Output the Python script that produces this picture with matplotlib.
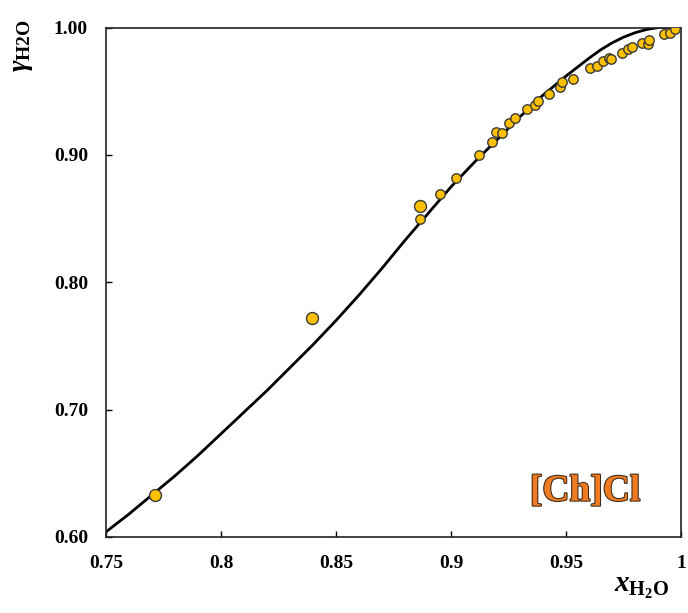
import matplotlib
matplotlib.use("Agg")
import matplotlib.pyplot as plt
import matplotlib.patheffects as pe

# experimental points (large markers)
x_big = [0.7713, 0.8396, 0.8865]
y_big = [0.633, 0.772, 0.8596]

# experimental points (small markers)
x_small = [0.8865, 0.8952, 0.9022, 0.9122, 0.9178, 0.9196, 0.9220, 0.9252, 0.9280,
           0.9330, 0.9365, 0.9378, 0.9426, 0.9474, 0.9483, 0.9530, 0.9604, 0.9635,
           0.9660, 0.9687, 0.9696, 0.9743, 0.9770, 0.9787, 0.9830, 0.9857, 0.9860,
           0.9926, 0.9952, 0.9974]
y_small = [0.850, 0.869, 0.882, 0.900, 0.910, 0.918, 0.917, 0.925, 0.929,
           0.936, 0.9396, 0.9427, 0.948, 0.953, 0.957, 0.960, 0.968, 0.970,
           0.974, 0.976, 0.9757, 0.980, 0.983, 0.985, 0.988, 0.987, 0.990,
           0.995, 0.996, 0.999]

# model curve
x_model = [0.75, 0.76, 0.77, 0.78, 0.79, 0.80, 0.81, 0.82, 0.83, 0.84, 0.85, 0.86,
           0.87, 0.88, 0.89, 0.90, 0.91, 0.92, 0.93, 0.94, 0.95, 0.96, 0.965, 0.97,
           0.975, 0.98, 0.985, 0.99, 1.00]
y_model = [0.604, 0.618, 0.633, 0.648, 0.664, 0.681, 0.698, 0.715, 0.733, 0.751, 0.770, 0.790,
           0.811, 0.833, 0.854, 0.875, 0.894, 0.912, 0.930, 0.947, 0.962, 0.976, 0.9825, 0.988,
           0.9925, 0.996, 0.9985, 1.000, 1.000]

x_ticks = [0.75, 0.8, 0.85, 0.9, 0.95, 1.0]
x_ticklabels = ["0.75", "0.8", "0.85", "0.9", "0.95", "1"]
y_ticks = [0.6, 0.7, 0.8, 0.9, 1.0]
y_ticklabels = ["0.60", "0.70", "0.80", "0.90", "1.00"]

plt.rcParams["font.family"] = ["Liberation Serif", "DejaVu Serif"]
plt.rcParams["font.weight"] = "bold"
plt.rcParams["mathtext.fontset"] = "custom"
plt.rcParams["mathtext.rm"] = "Liberation Serif:bold"
plt.rcParams["mathtext.bf"] = "Liberation Serif:bold"
plt.rcParams["mathtext.it"] = "Liberation Serif:italic:bold"

fig = plt.figure(figsize=(6.88, 6.13), dpi=100)
ax = fig.add_axes([0.154, 0.124, 0.836, 0.831])

ax.plot(x_model, y_model, color="black", lw=2.0, zorder=2)
ax.plot(x_small, y_small, "o", ms=6.8, mfc="#FFC000", mec="#3a3a3a", mew=1.0, zorder=3)
ax.plot(x_big, y_big, "o", ms=8.6, mfc="#FFC000", mec="#3a3a3a", mew=1.0, zorder=3)

ax.set_xlim(0.75, 1.0)
ax.set_ylim(0.6, 1.0)
ax.set_xticks(x_ticks)
ax.set_xticklabels(x_ticklabels)
ax.set_yticks(y_ticks)
ax.set_yticklabels(y_ticklabels)
ax.tick_params(direction="in", length=4, width=1, labelsize=14, pad=13)
for s in ax.spines.values():
    s.set_linewidth(1.2)
    s.set_color("#222222")

fig.text(0.033, 0.925, r"$\mathit{\gamma}_{\mathrm{H2O}}$", rotation=90, fontsize=20,
         ha="center", va="center")
fig.text(0.933, 0.042, r"$\mathit{x}_{\mathrm{H_2O}}$", fontsize=21, ha="center", va="center")

ax.text(0.833, 0.09, "[Ch]Cl", transform=ax.transAxes, fontsize=27, fontweight="bold",
        color="#EE7A22", ha="center", va="center",
        path_effects=[pe.withStroke(linewidth=1.5, foreground="#3a2a1a")])

fig.savefig("out.png", dpi=100)
